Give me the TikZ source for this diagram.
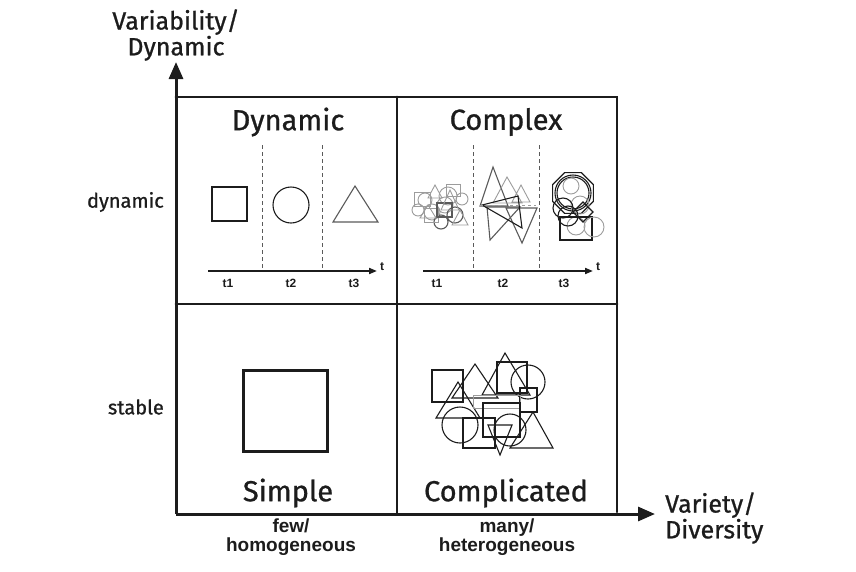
\documentclass[tikz,border=0pt]{standalone}
\usepackage{fontspec}
\newfontfamily\handfont[FakeBold=0.9]{Fira Sans}
\newfontfamily\plainfont{Liberation Sans}
\usepackage{xcolor}
\definecolor{pencil}{HTML}{1C1C1C}
\definecolor{graphite}{HTML}{5A5A5A}
\definecolor{smudge}{HTML}{9C9C9C}
\usepackage{tikz}
\usetikzlibrary{arrows.meta,positioning,calc}
\tikzset{
  axis/.style    ={-{Triangle[length=17pt,width=14pt]},draw=pencil,line width=3pt},
  cellline/.style={draw=pencil,line width=2.8pt,line cap=round},
  sepline/.style ={draw=graphite,line width=0.8pt,dash pattern=on 4pt off 3pt},
  timeaxis/.style={-{Triangle[length=8pt,width=6pt]},draw=pencil,line width=1.8pt},
  title/.style   ={font=\handfont\fontsize{29}{30}\selectfont,text=pencil,inner sep=0pt},
  axislbl/.style ={font=\handfont\fontsize{25}{23}\selectfont,text=pencil,inner sep=0pt},
  sidelbl/.style ={font=\handfont\fontsize{20}{22}\selectfont,text=pencil,inner sep=0pt},
  botlbl/.style  ={font=\plainfont\bfseries\fontsize{19}{19}\selectfont,text=pencil,
                   align=center,inner sep=0pt},
  tlbl/.style    ={font=\plainfont\bfseries\fontsize{12}{12}\selectfont,text=pencil,inner sep=0pt},
  shp/.style     ={draw=pencil,line width=1.1pt},
  faint/.style   ={draw=smudge,line width=0.9pt},
}

\begin{document}
\begin{tikzpicture}[x=1pt,y=-1pt]
\useasboundingbox (0,0) rectangle (856,571);
% axes
\coordinate (o) at (176,514);
\coordinate (ytip) at (176,62);
\coordinate (xtip) at (655,514);
\draw[axis] (o) -- (ytip);
\draw[axis] (o) -- (xtip);
\node[axislbl,align=center] (ylbl) at (176,35) {Variability/\\Dynamic};
\node[axislbl,align=left,anchor=west] (xlbl) at (665,518) {Variety/\\Diversity};
% quadrants
\draw[cellline] (176,97) -- (617,97) -- (617,512);
\draw[cellline] (176,304) -- (617,304);
\draw[cellline] (397,97) -- (397,514);
\node[sidelbl,anchor=east] (dyn) at (164,202) {dynamic};
\node[sidelbl,anchor=east] (stab) at (164,407) {stable};
\node[botlbl] (few) at (291,537) {few/\\homogeneous};
\node[botlbl] (many) at (507,537) {many/\\heterogeneous};
\node[title] (qdyn) at (288,122) {Dynamic};
\node[title] (qcpx) at (506,122) {Complex};
\node[title] (qsim) at (288,493) {Simple};
\node[title] (qcom) at (506,493) {Complicated};
% time lines
\foreach \xa/\xb/\xc/\xd/\s in {208/262/322/377/d,423/473/539/593/c}{
  \draw[sepline] (\xb,145) -- (\xb,271);
  \draw[sepline] (\xc,145) -- (\xc,271);
  \coordinate (ta\s) at (\xa,271);
  \coordinate (tb\s) at (\xd,271);
  \draw[timeaxis] (ta\s) -- (tb\s);
  \node[tlbl,anchor=west] (tt\s) at (\xd+3,267) {t};
}
\node[tlbl] (t1d) at (228,283) {t1};
\node[tlbl] (t2d) at (291,283) {t2};
\node[tlbl] (t3d) at (354,283) {t3};
\node[tlbl] (t1c) at (437,283) {t1};
\node[tlbl] (t2c) at (503,283) {t2};
\node[tlbl] (t3c) at (564,283) {t3};
% dynamic shapes
\draw[shp] (212,187) rectangle (247,221);
\draw[shp] (291,205) circle[radius=18pt];
\draw[shp,draw=graphite] (355,186) -- (378,222) -- (333,222) -- cycle;
% simple shape
\draw[draw=pencil,line width=3pt] (243,370) rectangle (327,451);
% complex t1
\draw[faint] (425,200) circle[radius=7pt] (432,212) circle[radius=8pt]
  (448,196) circle[radius=9pt] (462,199) circle[radius=6pt]
  (418,210) circle[radius=6pt] (445,205) circle[radius=8pt];
\draw[shp,draw=graphite] (455,215) circle[radius=8pt] (441,222) circle[radius=7pt];
\draw[faint] (414,192) rectangle (430,206) (446,184) rectangle (460,196)
  (424,208) rectangle (438,222);
\draw[shp,draw=graphite] (437,203) rectangle (452,217);
\draw[faint] (420,218) -- (428,205) -- (436,218) -- cycle
  (441,210) -- (450,190) -- (459,210) -- cycle
  (452,225) -- (460,210) -- (468,225) -- cycle
  (428,198) -- (435,185) -- (442,198) -- cycle;
% complex t2
\draw[shp,draw=graphite] (493,167) -- (480,206) -- (508,206) -- cycle;
\draw[faint] (507,177) -- (493,203) -- (522,203) -- cycle
  (521,185) -- (512,202) -- (530,202) -- cycle;
\draw[shp,draw=graphite] (487,207) -- (520,207) -- (490,240) -- cycle;
\draw[shp,draw=graphite] (506,208) -- (537,208) -- (522,243) -- cycle;
\draw[shp] (482,205) -- (518,196) -- (522,228) -- cycle;
\draw[faint,dashed] (480,205) -- (536,205);
% complex t3
\draw[shp] (573,193) +(22.5:22pt) -- +(67.5:22pt) -- +(112.5:22pt) -- +(157.5:22pt)
  -- +(202.5:22pt) -- +(247.5:22pt) -- +(292.5:22pt) -- +(337.5:22pt) -- cycle;
\draw[shp] (573,193) circle[radius=18pt] (573,193) circle[radius=16pt];
\draw[faint] (571,186) circle[radius=8pt] (580,205) circle[radius=9pt]
  (576,226) circle[radius=9pt];
\draw[shp] (563,208) circle[radius=10pt] (568,216) circle[radius=10pt];
\draw[shp] (583,202) -- (593,212) -- (583,222) -- (573,212) -- cycle;
\draw[shp] (560,217) rectangle (592,240);
\draw[faint] (594,227) circle[radius=10pt];
% complicated shapes
\draw[shp] (432,370) rectangle (463,402);
\draw[shp] (475,364) -- (498,398) -- (452,398) -- cycle;
\draw[shp] (505,353) -- (530,395) -- (482,395) -- cycle;
\draw[shp] (497,362) rectangle (527,393);
\draw[shp] (528,382) circle[radius=17pt];
\draw[shp] (520,388) rectangle (537,412);
\draw[shp] (458,382) -- (480,418) -- (436,418) -- cycle;
\draw[shp] (460,425) circle[radius=18pt];
\draw[shp] (463,418) rectangle (495,448);
\draw[shp] (510,430) circle[radius=16pt];
\draw[shp] (533,412) -- (553,448) -- (510,448) -- cycle;
\draw[faint] (473,395) rectangle (520,408);
\draw[shp] (483,403) rectangle (520,437);
\draw[shp] (488,425) -- (512,425) -- (500,455) -- cycle;
\end{tikzpicture}
\end{document}
